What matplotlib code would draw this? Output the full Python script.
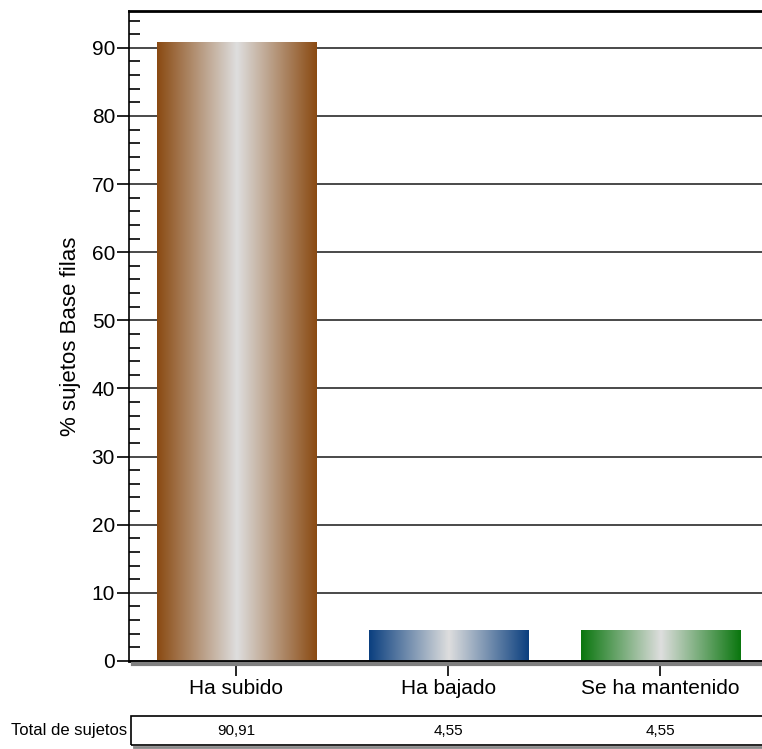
import numpy as np
import matplotlib.pyplot as plt
from matplotlib.colors import LinearSegmentedColormap
from matplotlib.lines import Line2D
from matplotlib.patches import Rectangle
from matplotlib.ticker import MultipleLocator

categories = ["Ha subido", "Ha bajado", "Se ha mantenido"]
values = [90.91, 4.55, 4.55]
table_labels = ["90,91", "4,55", "4,55"]
edge_colors = ["#8a4a12", "#0b3f7f", "#0a760e"]
center_color = "#dedede"

plt.rcParams['font.family'] = ['Liberation Sans', 'DejaVu Sans']

fig = plt.figure(figsize=(7.62, 7.49), dpi=100)
ax = fig.add_axes([129 / 762, 1 - 661 / 749, 1 - 129 / 762, (661 - 11) / 749])

x = np.arange(len(categories))
bars = ax.bar(x, values, width=0.75, facecolor="none", edgecolor="none", zorder=3)

# horizontal gradient fill: dark at the edges, light grey in the middle
prof = np.abs(np.linspace(-1, 1, 256))[None, :]
for b, c in zip(bars, edge_colors):
    cmap = LinearSegmentedColormap.from_list("g", [center_color, c])
    im = ax.imshow(prof, cmap=cmap, vmin=0, vmax=1, aspect="auto",
                   extent=[b.get_x(), b.get_x() + b.get_width(), 0, b.get_height()],
                   zorder=3, interpolation="bilinear")
    im.set_clip_path(b)

ax.set_xlim(-0.505, 2.48)
ax.set_ylim(0, 95.4)

ax.yaxis.set_major_locator(MultipleLocator(10))
ax.yaxis.set_minor_locator(MultipleLocator(2))
ax.yaxis.grid(True, which="major", color="#3a3a3a", lw=1.3, zorder=1)
ax.set_axisbelow(True)

ax.tick_params(axis="y", which="major", direction="out", length=9, width=1.2,
               labelsize=15, pad=1)
ax.tick_params(axis="y", which="minor", direction="in", length=8, width=1.2)
ax.set_xticks(x)
ax.set_xticklabels(categories, fontsize=15)
ax.tick_params(axis="x", direction="inout", length=22, width=1.2, pad=2)

ax.spines["right"].set_visible(False)
ax.spines["top"].set_linewidth(2)
ax.spines["left"].set_linewidth(1.2)
ax.spines["bottom"].set_linewidth(2)
ax.spines["bottom"].set_zorder(4)

ax.set_ylabel("% sujetos Base filas", fontsize=16, labelpad=8)

# shadow under x axis
fig.add_artist(Line2D([133 / 762, 1], [1 - 664 / 749, 1 - 664 / 749],
                      color="#7f7f7f", lw=3, zorder=2))

# table row (box runs off the right edge)
fig.add_artist(Line2D([134 / 762, 1], [1 - 747 / 749, 1 - 747 / 749],
                      color="#8a8a8a", lw=2, zorder=2))
fig.add_artist(Rectangle((131 / 762, 1 - 745 / 749), 1 - 131 / 762 + 0.02, 29 / 749,
                         fill=False, edgecolor="black", lw=1.2, zorder=3))
fig.text(127 / 762, 1 - 731 / 749, "Total de sujetos", ha="right", va="center",
         fontsize=12)
trans = ax.get_xaxis_transform()
for xi, lab in zip(x, table_labels):
    ax.text(xi, -((731 - 661) / 650), lab, transform=trans, ha="center",
            va="center", fontsize=11, clip_on=False)

fig.savefig("out.png", dpi=100)
